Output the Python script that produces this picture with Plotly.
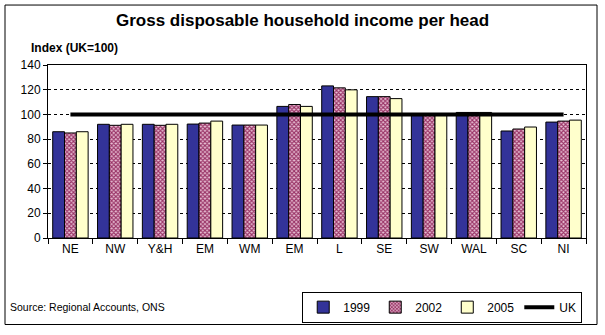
import plotly.graph_objects as go

# Regions (ids are unique; labels as printed under the axis)
region_ids = ["NE", "NW", "YH", "EM", "WM", "EE", "L", "SE", "SW", "WAL", "SC", "NI"]
region_labels = ["NE", "NW", "Y&H", "EM", "WM", "EM", "L", "SE", "SW", "WAL", "SC", "NI"]

# Gross disposable household income per head, index UK=100
gdhi_1999 = [86, 92, 92, 92.2, 91.4, 106.5, 123.1, 114.4, 99.8, 101.6, 86.6, 93.8]
gdhi_2002 = [85, 91.2, 91.2, 93.0, 91.4, 108.0, 121.5, 114.4, 100.0, 101.6, 88.2, 94.6]
gdhi_2005 = [86, 92, 92, 94.6, 91.4, 106.5, 119.9, 112.8, 100.0, 101.6, 89.8, 95.4]
uk_index = [100, 100, 100, 100, 100, 100, 100, 100, 100, 100, 100, 100]

y_ticks = [0, 20, 40, 60, 80, 100, 120, 140]

FONT = "Liberation Sans, Arial, sans-serif"

fig = go.Figure()
fig.add_trace(go.Bar(
    x=region_ids, y=gdhi_1999, name="1999",
    marker=dict(color="#333399", line=dict(color="black", width=1)),
))
fig.add_trace(go.Bar(
    x=region_ids, y=gdhi_2002, name="2002",
    marker=dict(
        color="#993366",
        line=dict(color="black", width=1),
        pattern=dict(shape="x", fgcolor="#993366", bgcolor="#e8c0d4",
                     size=3, solidity=0.6, fillmode="replace"),
    ),
))
fig.add_trace(go.Bar(
    x=region_ids, y=gdhi_2005, name="2005",
    marker=dict(color="#FFFFCC", line=dict(color="black", width=1)),
))
fig.add_trace(go.Scatter(
    x=region_ids, y=uk_index, name="UK", mode="lines",
    line=dict(color="black", width=4),
))

fig.update_layout(
    width=605, height=335,
    margin=dict(l=48, r=19, t=65, b=94),
    paper_bgcolor="white", plot_bgcolor="white",
    font=dict(family=FONT, size=11, color="black"),
    barmode="group", bargap=0.21, bargroupgap=0,
    showlegend=True,
    legend=dict(
        orientation="h", x=0.993, xanchor="right", y=-0.31, yanchor="top",
        bordercolor="black", borderwidth=1, bgcolor="white",
        font=dict(family=FONT, size=12),
        itemwidth=30, tracegroupgap=0,
    ),
    xaxis=dict(
        type="category",
        tickmode="array", tickvals=region_ids, ticktext=region_labels,
        tickson="boundaries", ticks="outside", ticklen=5, tickcolor="black",
        showline=True, linecolor="black", linewidth=1, mirror=True,
        showgrid=False, tickfont=dict(size=12), range=[-0.5, 11.5],
    ),
    yaxis=dict(
        range=[0, 140], tickvals=y_ticks,
        ticks="outside", ticklen=4, tickcolor="black",
        showline=True, linecolor="black", linewidth=1, mirror=True,
        showgrid=True, gridcolor="black", gridwidth=1, griddash="3px,3px",
        zeroline=False, tickfont=dict(size=12),
    ),
    shapes=[dict(
        type="rect", xref="paper", yref="paper",
        x0=(5 - 48) / 538, x1=(597 - 48) / 538,
        y0=(241 - 329) / 176, y1=(241 - 4) / 176,
        line=dict(color="black", width=1), fillcolor="rgba(0,0,0,0)",
        layer="below",
    )],
    annotations=[
        dict(text="<b>Gross disposable household income per head</b>",
             xref="paper", yref="paper", x=(302 - 48) / 538, y=(241 - 20) / 176,
             xanchor="center", yanchor="middle", showarrow=False,
             font=dict(family=FONT, size=17)),
        dict(text="<b>Index (UK=100)</b>",
             xref="paper", yref="paper", x=(29 - 48) / 538, y=(241 - 48) / 176,
             xanchor="left", yanchor="middle", showarrow=False,
             font=dict(family=FONT, size=12)),
        dict(text="Source: Regional Accounts, ONS",
             xref="paper", yref="paper", x=(8 - 48) / 538, y=(241 - 311) / 176,
             xanchor="left", yanchor="middle", showarrow=False,
             font=dict(family=FONT, size=10.5)),
    ],
)

fig.write_html("out.html")
